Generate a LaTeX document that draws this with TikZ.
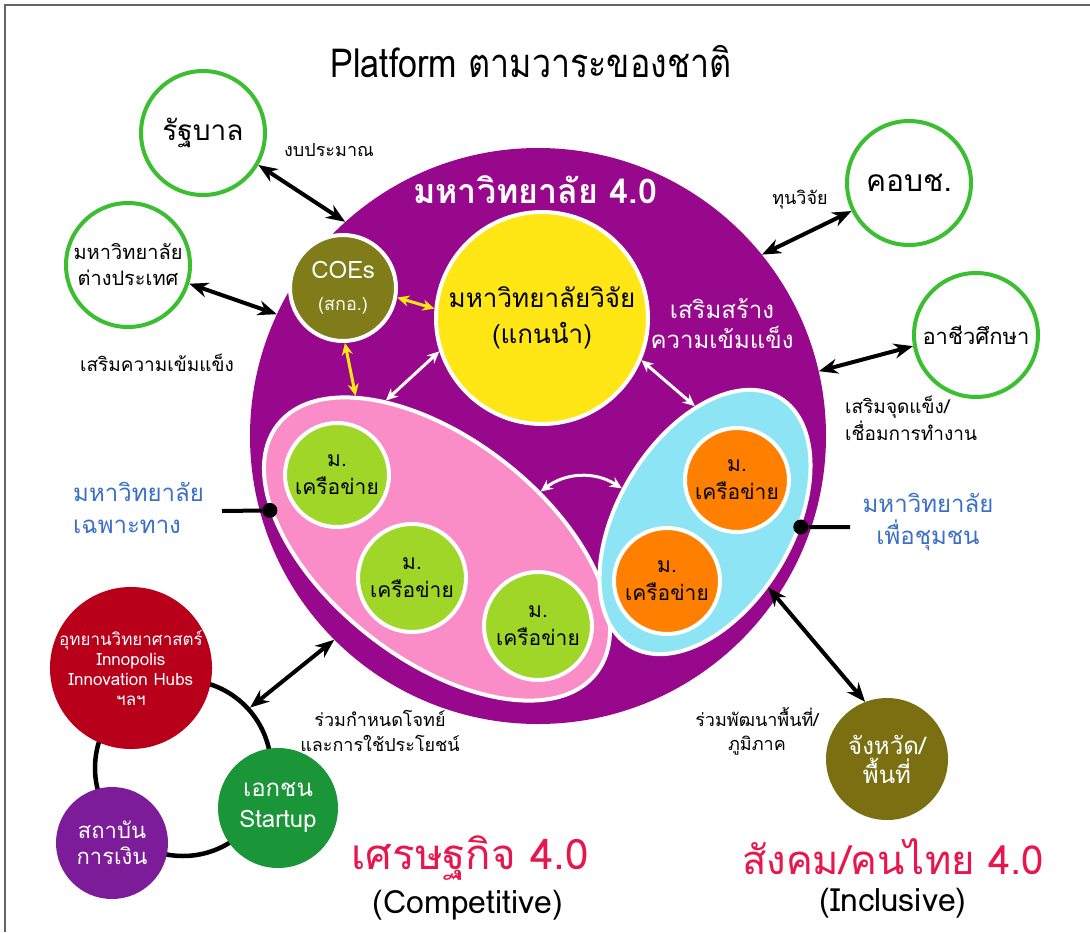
\documentclass[tikz,border=0pt]{standalone}
\usepackage{fontspec}
\setmainfont[Script=Thai]{Loma}
\usetikzlibrary{arrows.meta,shapes.geometric}
\definecolor{bigpurple}{RGB}{152,8,140}
\definecolor{ryellow}{RGB}{255,230,20}
\definecolor{olive1}{RGB}{128,124,26}
\definecolor{olive2}{RGB}{122,112,18}
\definecolor{pinkfill}{RGB}{250,140,200}
\definecolor{bluefill}{RGB}{140,228,245}
\definecolor{limefill}{RGB}{160,214,40}
\definecolor{orangefill}{RGB}{255,128,0}
\definecolor{redfill}{RGB}{184,0,26}
\definecolor{violet1}{RGB}{124,28,152}
\definecolor{greenfill}{RGB}{26,150,56}
\definecolor{ringgreen}{RGB}{60,190,50}
\definecolor{bluetext}{RGB}{58,112,200}
\definecolor{crimson}{RGB}{232,22,76}
\definecolor{framegray}{RGB}{100,100,100}
\newcommand\fsz[2]{\fontsize{#1}{#2}\selectfont}
\begin{document}
\begin{tikzpicture}[x=1pt,y=-1pt,
  lbl/.style={text=black, inner sep=0pt, align=center},
  ringnode/.style={circle, draw=ringgreen, line width=4pt, fill=white, minimum size=#1, inner sep=0pt, align=center},
  wcirc/.style={circle, draw=white, line width=4pt, inner sep=0pt, align=center},
  pcirc/.style={circle, inner sep=0pt, align=center, text=white},
  dblarrow/.style={{Stealth[length=19pt,width=15pt]}-{Stealth[length=19pt,width=15pt]}, line width=4pt, draw=black},
  yarrow/.style={{Stealth[length=12pt,width=11pt]}-{Stealth[length=12pt,width=11pt]}, line width=3pt, draw=ryellow},
  warrow/.style={{Stealth[length=12pt,width=11pt]}-{Stealth[length=12pt,width=11pt]}, line width=3pt, draw=white},
  dotnode/.style={circle, fill=black, inner sep=0pt, minimum size=15pt},
]
\useasboundingbox (0,0) rectangle (1090,932);
\fill[white] (0,0) rectangle (1090,932);
\draw[framegray, line width=2pt] (5,932) -- (5,5) -- (1090,5);

% title
\node[lbl, font=\fsz{40}{48}] (title) at (531,62) {\scalebox{0.85}[1]{Platform ตามวาระของชาติ}};

% ring behind bottom-left cluster
\node[circle, draw=black, line width=4.5pt, minimum size=176pt, inner sep=0pt] (ring) at (183,768) {};

% big circle
\node[circle, fill=bigpurple, minimum size=576pt, inner sep=0pt] (big) at (538,436) {};
\node[lbl, text=white, font=\bfseries\fsz{34}{40}] (u40) at (535,190) {มหาวิทยาลัย 4.0};

% ellipses
\node[ellipse, fill=pinkfill, draw=white, line width=4pt, minimum width=404pt, minimum height=220pt, inner sep=0pt, rotate=-38] (pink) at (437,549) {};
\node[ellipse, fill=bluefill, draw=white, line width=4pt, minimum width=290pt, minimum height=174pt, inner sep=0pt, rotate=59] (blue) at (705,522) {};

% inner circles
\node[wcirc, fill=ryellow, minimum size=212pt, font=\fsz{26}{36}] (yellow) at (542,318) {มหาวิทยาลัยวิจัย\\(แกนนำ)};
\node[wcirc, fill=olive1, minimum size=106pt, text=white, font=\fsz{24}{30}] (coe) at (343,288) {COEs\\[2pt]{\fsz{18}{22}(สกอ.)}};
\node[lbl, text=white, font=\fsz{24}{30}] (strong) at (722,324) {เสริมสร้าง\\ความเข้มแข็ง};

\node[wcirc, fill=limefill, minimum size=104pt, font=\fsz{21}{28}] (g1) at (337,475) {ม.\\เครือข่าย};
\node[wcirc, fill=limefill, minimum size=108pt, font=\fsz{21}{28}] (g2) at (412,578) {ม.\\เครือข่าย};
\node[wcirc, fill=limefill, minimum size=108pt, font=\fsz{21}{28}] (g3) at (538,626) {ม.\\เครือข่าย};
\node[wcirc, fill=orangefill, minimum size=104pt, font=\fsz{21}{28}] (o1) at (737,480) {ม.\\เครือข่าย};
\node[wcirc, fill=orangefill, minimum size=106pt, font=\fsz{21}{28}] (o2) at (667,581) {ม.\\เครือข่าย};

% outer green-ring circles
\node[ringnode=124pt, font=\fsz{28}{34}] (gov) at (203,133) {รัฐบาล};
\node[ringnode=124pt, font=\fsz{20}{26}] (foreign) at (128,265) {มหาวิทยาลัย\\ต่างประเทศ};
\node[ringnode=124pt, font=\fsz{30}{36}] (kob) at (909,183) {คอบช.};
\node[ringnode=124pt, font=\fsz{22}{28}] (voc) at (976,335) {อาชีวศึกษา};

% province
\node[pcirc, fill=olive2, minimum size=122pt, font=\fsz{24}{29}] (prov) at (887,759) {จังหวัด/\\พื้นที่};

% bottom-left cluster
\node[pcirc, fill=redfill, minimum size=138pt, font=\fsz{17}{20}] (park) at (131,668) {อุทยานวิทยาศาสตร์\\Innopolis\\Innovation Hubs\\ฯลฯ};
\node[pcirc, fill=violet1, minimum size=112pt, font=\fsz{22}{26}] (fin) at (112,843) {สถาบัน\\การเงิน};
\node[pcirc, fill=greenfill, minimum size=120pt, font=\fsz{24}{31}] (start) at (278,808) {เอกชน\\Startup};

% labels
\node[lbl, font=\fsz{18}{22}] (lb1) at (329,150) {งบประมาณ};
\node[lbl, font=\fsz{19}{22}] (lb2) at (157,363) {เสริมความเข้มแข็ง};
\node[lbl, font=\fsz{18}{22}] (lb3) at (800,200) {ทุนวิจัย};
\node[lbl, font=\fsz{19}{27}, anchor=west, align=left] (lb4) at (845,418) {เสริมจุดแข็ง/\\เชื่อมการทำงาน};
\node[lbl, font=\fsz{18}{25}] (lb5) at (380,731) {ร่วมกำหนดโจทย์\\และการใช้ประโยชน์};
\node[lbl, font=\fsz{18}{24}] (lb6) at (757,731) {ร่วมพัฒนาพื้นที่/\\ภูมิภาค};

\node[lbl, text=bluetext, font=\fsz{24}{32}, anchor=west, align=left] (spec) at (73,508) {มหาวิทยาลัย\\เฉพาะทาง};
\node[lbl, text=bluetext, font=\fsz{24}{32}] (comm) at (928,522) {มหาวิทยาลัย\\เพื่อชุมชน};

% dots and lines
\node[dotnode] (ldot) at (pink.205) {};
\coordinate (lend) at (222,511);
\draw[line width=4pt] (lend) -- (ldot);
\node[dotnode] (rdot) at (blue.-62) {};
\coordinate (rend) at (850,527);
\draw[line width=4pt] (rdot) -- (rend);

% black arrows
\draw[dblarrow] (gov.-30) -- (big.132);
\draw[dblarrow] (foreign.-17) -- (big.155);
\draw[dblarrow] (kob.-154) -- (big.39);
\draw[dblarrow] (voc.190) -- (big.13);
\draw[dblarrow] (blue.255) -- (prov.111);
\draw[dblarrow] (ring.42) -- (big.-135);

% inner arrows
\draw[yarrow] (coe.-10) -- (yellow.175);
\draw[yarrow] (coe.-88) -- (pink.156);
\draw[warrow] (yellow.198) -- (pink.147);
\draw[warrow] (yellow.-23) -- (blue.36);
\draw[warrow] (pink.67) to[bend left=35] (blue.99);

% bottom titles
\node[lbl, text=crimson, font=\fsz{42}{46}] (econ) at (470,858) {เศรษฐกิจ 4.0};
\node[lbl, font=\fsz{32}{36}] (comp) at (468,905) {(Competitive)};
\node[lbl, text=crimson, font=\fsz{40}{44}] (soc) at (893,857) {สังคม/คนไทย 4.0};
\node[lbl, font=\fsz{32}{36}] (incl) at (893,903) {(Inclusive)};
\end{tikzpicture}
\end{document}
